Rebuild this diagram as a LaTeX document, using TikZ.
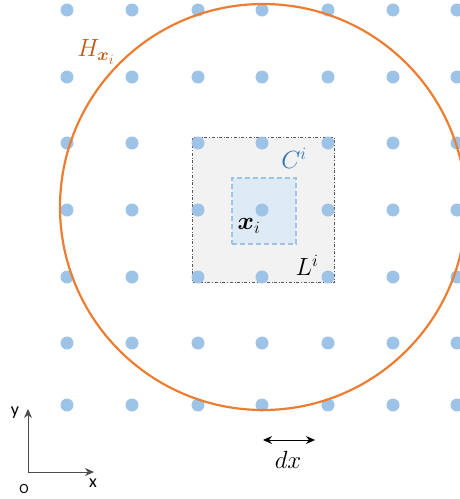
\documentclass[tikz,border=0pt]{standalone}
\usepackage{amsmath}
\usepackage{bm}
\usepackage{fontspec}
\usepackage{tikz}
\usetikzlibrary{arrows.meta,positioning}
\newfontfamily\axisfont{Carlito}
\definecolor{dotblue}{RGB}{157,195,230}
\definecolor{ringorange}{RGB}{237,125,49}
\definecolor{labelorange}{RGB}{197,90,17}
\definecolor{labelblue}{RGB}{46,117,182}
\definecolor{cellfill}{RGB}{222,235,247}
\definecolor{boxfill}{RGB}{242,242,242}
\begin{document}
\begin{tikzpicture}[
x=1pt, y=-1pt,
gridpt/.style={circle, fill=dotblue, inner sep=0pt, minimum size=13pt},
localbox/.style={draw=gray!70!black, dash dot, line width=1.1pt, fill=boxfill},
cellbox/.style={draw=dotblue, dash pattern=on 5pt off 3pt, line width=1.6pt, fill=cellfill},
ring/.style={draw=ringorange, circle, line width=2.2pt, inner sep=0pt, minimum size=406pt},
mathlabel/.style={font=\fontsize{27}{30}\selectfont, inner sep=0pt},
axislabel/.style={font=\axisfont\fontsize{18}{20}\selectfont, inner sep=0pt},
axis/.style={-{Stealth[length=9pt,width=8pt]}, line width=0.9pt, gray!60!black},
arrow/.style={{Stealth[length=9pt,width=8pt]}-{Stealth[length=9pt,width=8pt]}, line width=1pt}
]
\clip (0,0) rectangle (460,499);

\node[localbox, minimum width=142pt, minimum height=145pt, anchor=north west] (local) at (192,137) {};
\node[cellbox, minimum width=64pt, minimum height=66pt, anchor=north west] (cell) at (231,177) {};

\foreach \px in {67,132,198,262,328,393,457}
  \foreach \py in {10,77,143,210,277,343,405}
    \node[gridpt] at (\px,\py) {};

\node[ring] (ring) at (263,207) {};

\node[mathlabel, text=labelorange] (hlabel) at (96,52) {$H_{\bm{x}_i}$};
\node[mathlabel, text=labelblue] (clabel) at (294,158) {$C^i$};
\node[mathlabel] (xlabel) at (249,226) {$\bm{x}_i$};
\node[mathlabel] (llabel) at (307,265) {$L^i$};

\coordinate (dxl) at (263,440);
\coordinate (dxr) at (315,440);
\draw[arrow] (dxl) -- (dxr);
\node[mathlabel] (dxlabel) at (288,460) {$dx$};

\coordinate (origin) at (28,472);
\coordinate (yend) at (28,409);
\coordinate (xend) at (94,472);
\draw[axis] (origin) -- (yend);
\draw[axis] (origin) -- (xend);
\node[axislabel] (ylabel) at (15,413) {y};
\node[axislabel] (xaxlabel) at (93,483) {x};
\node[axislabel, font=\axisfont\fontsize{14}{16}\selectfont] (olabel) at (24,489) {O};
\end{tikzpicture}
\end{document}
